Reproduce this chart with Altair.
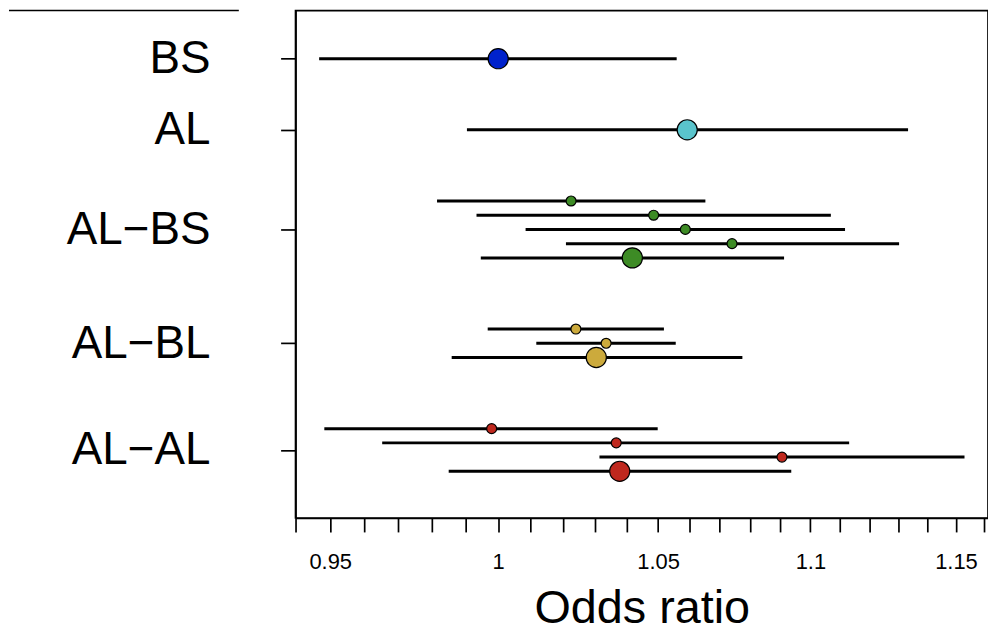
import altair as alt
import pandas as pd

# ---- data ----
groups = ["BS", "AL", "AL−BS", "AL−BL", "AL−AL"]
group_colors = ["#0022CC", "#5AC4CC", "#3D8B25", "#CCAA3C", "#BF281E"]
group_pos = [0, 5, 12, 20, 27.5]          # y position of each group label

row_group = ["BS", "AL",
             "AL−BS", "AL−BS", "AL−BS", "AL−BS", "AL−BS",
             "AL−BL", "AL−BL", "AL−BL",
             "AL−AL", "AL−AL", "AL−AL", "AL−AL"]
row_y = [0, 5, 10, 11, 12, 13, 14, 19, 20, 21, 26, 27, 28, 29]
row_kind = ["pooled", "pooled",
            "study", "study", "study", "study", "pooled",
            "study", "study", "pooled",
            "study", "study", "study", "pooled"]
est = [1.000, 1.0594, 1.0225, 1.0486, 1.0588, 1.0740, 1.0418,
       1.0240, 1.0335, 1.0304, 0.9980, 1.0367, 1.0905, 1.0378]
lo = [0.9468, 0.9905, 0.9815, 0.9934, 1.0084, 1.0209, 0.9947,
      0.9968, 1.0117, 0.9859, 0.9483, 0.9652, 1.0314, 0.9850]
hi = [1.0560, 1.1333, 1.0653, 1.1069, 1.1117, 1.1302, 1.0912,
      1.0519, 1.0557, 1.0774, 1.0499, 1.1131, 1.1530, 1.0936]

x_ticks = [round(0.94 + 0.01 * i, 2) for i in range(23)]
x_labels = [0.95, 1, 1.05, 1.1, 1.15]

df = pd.DataFrame({"group": row_group, "y": row_y, "kind": row_kind,
                   "est": est, "lo": lo, "hi": hi})

FONT = "Liberation Sans"

x_label_expr = "(" + " || ".join(
    f"abs(datum.value - {v}) < 1e-9" for v in x_labels) + ") ? format(datum.value, '~g') : ''"
y_label_expr = "".join(
    f"abs(datum.value - {p}) < 1e-9 ? '{g}' : " for p, g in zip(group_pos, groups)) + "''"

xscale = alt.Scale(type="log", domain=[0.94, 1.1613], nice=False, zero=False)
yscale = alt.Scale(domain=[-3.38, 32.28], reverse=True, nice=False, zero=False)

xaxis = alt.Axis(values=x_ticks, labelExpr=x_label_expr, labelOverlap=False,
                 labelFlush=False, grid=False, tickSize=14, labelPadding=20,
                 labelFontSize=22, labelFont=FONT, labelColor="black",
                 title="Odds ratio", titleFontSize=47, titleFont=FONT,
                 titleFontWeight="normal", titleColor="black",
                 titleBaseline="alphabetic", titleY=105, titleX=348,
                 domainColor="black", domainWidth=1.7,
                 tickColor="black", tickWidth=1.7)
yaxis = alt.Axis(values=group_pos, labelExpr=y_label_expr, labelOverlap=False,
                 labelFlush=False, grid=False, tickSize=15, labelPadding=71,
                 labelFontSize=46, labelFont=FONT, labelColor="black",
                 labelBaseline="middle", title="",
                 domainColor="black", domainWidth=1.7,
                 tickColor="black", tickWidth=1.7)

base = alt.Chart(df)

lines = base.mark_rule(color="black", strokeWidth=3).encode(
    x=alt.X("lo:Q", scale=xscale, axis=xaxis),
    x2="hi:Q",
    y=alt.Y("y:Q", scale=yscale, axis=yaxis),
)

points = base.mark_circle(stroke="black", strokeWidth=1.2, opacity=1).encode(
    x=alt.X("est:Q", scale=xscale),
    y=alt.Y("y:Q", scale=yscale),
    fill=alt.Fill("group:N", scale=alt.Scale(domain=groups, range=group_colors),
                  legend=None),
    size=alt.Size("kind:N", scale=alt.Scale(domain=["study", "pooled"],
                                            range=[100, 410]), legend=None),
)

header = alt.Chart(pd.DataFrame({"a": [0]})).mark_rule(
    color="black", strokeWidth=1.5).encode(
    x=alt.value(-288), x2=alt.value(-57), y=alt.value(0))

chart = alt.layer(lines, points, header).properties(
    width=696, height=510, autosize="none",
    padding={"left": 289, "top": 1, "right": 0, "bottom": 116},
    background="white",
).configure_view(stroke="black", strokeWidth=1.7)

chart.save("out.html", embed_options={"renderer": "svg", "actions": False})
